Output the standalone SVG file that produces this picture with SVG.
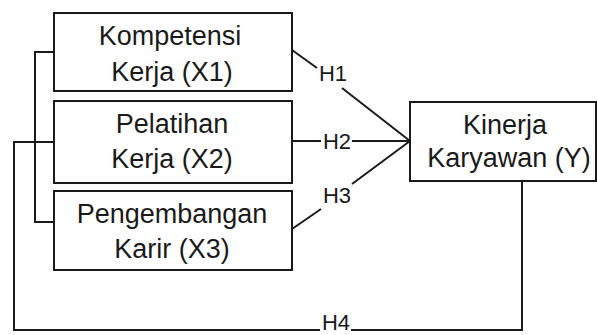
<svg xmlns="http://www.w3.org/2000/svg" width="597" height="335" viewBox="0 0 597 335">
<style>
.box{fill:#fff;stroke:#1a1a1a;stroke-width:2}
.t{font-family:"Liberation Sans",Arial,sans-serif;font-size:27px;fill:#1a1a1a;text-anchor:middle}
.h{font-family:"Liberation Sans",Arial,sans-serif;font-size:22px;fill:#1a1a1a;text-anchor:middle}
.ln{fill:none;stroke:#1a1a1a;stroke-width:2}
</style>
<rect width="597" height="335" fill="#fff"/>
<g id="connectors">
<polyline class="ln" points="54,52 35,52 35,222 54,222"/>
<line class="ln" x1="35" y1="142" x2="54" y2="142"/>
<polyline class="ln" points="35,142 14,142 14,330 320,330"/>
<polyline class="ln" points="351,330 522,330 522,181"/>
<line class="ln" x1="292" y1="50" x2="317" y2="68"/>
<line class="ln" x1="342" y1="88" x2="410" y2="141"/>
<line class="ln" x1="292" y1="141" x2="321" y2="141"/>
<line class="ln" x1="352" y1="141" x2="410" y2="141"/>
<line class="ln" x1="292" y1="229" x2="321" y2="209"/>
<line class="ln" x1="352" y1="184" x2="410" y2="141"/>
<text class="h" x="333" y="81">H1</text>
<text class="h" x="337" y="149">H2</text>
<text class="h" x="337" y="203">H3</text>
<text class="h" x="336" y="330">H4</text>
</g>
<g id="x1">
<rect class="box" x="54" y="13" width="238" height="78"/>
<text class="t" x="170" y="45">Kompetensi</text>
<text class="t" x="172" y="81">Kerja (X1)</text>
</g>
<g id="x2">
<rect class="box" x="54" y="101" width="238" height="82"/>
<text class="t" x="172" y="133">Pelatihan</text>
<text class="t" x="172" y="168">Kerja (X2)</text>
</g>
<g id="x3">
<rect class="box" x="54" y="191" width="238" height="79"/>
<text class="t" x="172" y="223">Pengembangan</text>
<text class="t" x="172" y="258">Karir (X3)</text>
</g>
<g id="y">
<rect class="box" x="410" y="102" width="186" height="79"/>
<text class="t" x="505" y="134">Kinerja</text>
<text class="t" x="509" y="167">Karyawan (Y)</text>
</g>
</svg>
